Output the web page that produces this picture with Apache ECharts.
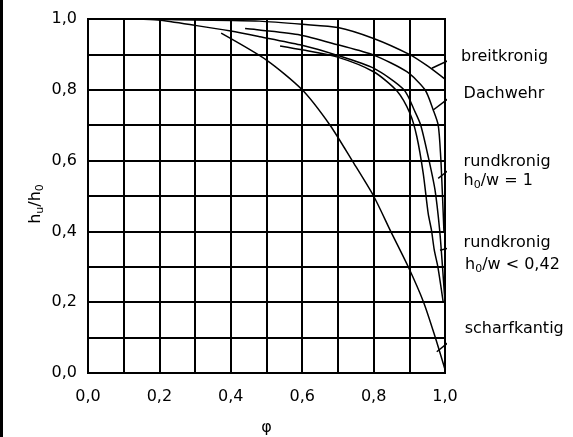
<!DOCTYPE html>
<html>
<head>
<meta charset="utf-8">
<script src="https://cdn.jsdelivr.net/npm/echarts@6/dist/echarts.min.js"></script>
<style>
  html, body { margin: 0; padding: 0; background: #fff; }
  #chart { width: 573px; height: 437px; }
</style>
</head>
<body>
<div id="chart"></div>
<script>
// curves: [phi, hu/h0]
const breitkronig = [[0.135, 1.0], [0.2, 0.999], [0.3, 0.997], [0.4, 0.996], [0.48, 0.994], [0.6, 0.985], [0.7, 0.976], [0.8, 0.945], [0.9, 0.9], [0.95, 0.868], [1.0, 0.83]]
const dachwehr = [[0.44, 0.973], [0.48, 0.969], [0.594, 0.955], [0.7, 0.927], [0.8, 0.898], [0.893, 0.851], [0.944, 0.8], [0.967, 0.743], [0.981, 0.7], [0.988, 0.61], [0.993, 0.5], [0.997, 0.4]]
const rundkronig1 = [[0.135, 1.0], [0.196, 0.997], [0.3, 0.982], [0.4, 0.966], [0.482, 0.95], [0.594, 0.927], [0.697, 0.898], [0.8, 0.861], [0.885, 0.8], [0.915, 0.74], [0.932, 0.7], [0.953, 0.611], [0.972, 0.517], [0.985, 0.404], [0.993, 0.3], [1.0, 0.2]]
const rundkronig042 = [[0.538, 0.924], [0.6, 0.913], [0.697, 0.893], [0.8, 0.851], [0.865, 0.797], [0.902, 0.733], [0.921, 0.668], [0.939, 0.564], [0.953, 0.45], [0.962, 0.404], [0.97, 0.347], [0.98, 0.3], [0.995, 0.2]]
const scharfkantig = [[0.373, 0.96], [0.5, 0.884], [0.6, 0.8], [0.678, 0.7], [0.74, 0.6], [0.8, 0.5], [0.848, 0.4], [0.897, 0.3], [0.94, 0.2], [0.972, 0.103], [1.0, 0.01]]

const labeledTicks = [0, 0.2, 0.4, 0.6, 0.8, 1.0]

// leader lines from the labels to the curves
const leaders = [
  [[1.042, 0.898], [0.963, 0.861]],
  [[1.047, 0.804], [0.967, 0.743]],
  [[1.051, 0.606], [0.981, 0.55]],
  [[1.047, 0.362], [0.986, 0.347]],
  [[1.051, 0.121], [0.977, 0.06]]
]

// label texts and where they sit (data units)
const labels = [
  { text: 'breitkronig', at: [1.045, 0.893] },
  { text: 'Dachwehr', at: [1.052, 0.788] },
  { text: 'rundkronig', at: [1.052, 0.597] },
  { text: 'h{s|0}/w = 1', at: [1.052, 0.543] },
  { text: 'rundkronig', at: [1.052, 0.367] },
  { text: 'h{s|0}/w < 0,42', at: [1.056, 0.306] },
  { text: 'scharfkantig', at: [1.055, 0.124] }
]

const FONT = 'DejaVu Sans'
const sub = { fontSize: 11, fontFamily: FONT, color: '#000', padding: [9, 0, 0, 0] }

const chart = echarts.init(document.getElementById('chart'))

const curve = (name, data) => ({
  name,
  type: 'line',
  data,
  showSymbol: false,
  smooth: 0.25,
  lineStyle: { color: '#000', width: 1.5 },
  silent: true,
  z: 5
})

const fmt = v => {
  const r = Math.round(v * 10) / 10
  return labeledTicks.some(t => Math.abs(t - r) < 1e-6) ? r.toFixed(1).replace('.', ',') : ''
}

chart.setOption({
  animation: false,
  backgroundColor: '#fff',
  textStyle: { fontFamily: FONT },
  grid: {
    left: 88, right: 128, top: 19, bottom: 64,
    outerBoundsMode: 'none', containLabel: false,
    show: true, borderColor: '#000', borderWidth: 2
  },
  xAxis: {
    type: 'value', min: 0, max: 1, interval: 0.1,
    name: 'φ', nameLocation: 'middle', nameGap: 47, nameMoveOverlap: false,
    nameTextStyle: { fontSize: 16, color: '#000', fontFamily: FONT },
    axisLine: { lineStyle: { color: '#000', width: 2 } },
    axisTick: { show: false },
    axisLabel: { formatter: fmt, fontSize: 16, color: '#000', margin: 16, fontFamily: FONT },
    splitLine: { lineStyle: { color: '#000', width: 2 } }
  },
  yAxis: {
    type: 'value', min: 0, max: 1, interval: 0.1,
    name: 'h{s|u}/h{s|0}', nameLocation: 'middle', nameGap: 42, nameMoveOverlap: false,
    nameTextStyle: { fontSize: 16, color: '#000', fontFamily: FONT, rich: { s: sub }, padding: [0, 16, 0, 0] },
    axisLine: { lineStyle: { color: '#000', width: 2 } },
    axisTick: { show: false },
    axisLabel: { formatter: fmt, fontSize: 16, color: '#000', margin: 11, fontFamily: FONT },
    splitLine: { lineStyle: { color: '#000', width: 2 } }
  },
  series: [
    curve('breitkronig', breitkronig),
    curve('Dachwehr', dachwehr),
    curve('rundkronig h0/w = 1', rundkronig1),
    curve('rundkronig h0/w < 0,42', rundkronig042),
    curve('scharfkantig', scharfkantig),
    ...leaders.map(d => ({
      type: 'line', data: d, showSymbol: false, clip: false, silent: true,
      lineStyle: { color: '#000', width: 1.5 }, z: 6
    }))
  ]
})

const graphics = [
  { type: 'rect', left: 0, top: 0, shape: { width: 3, height: 437 }, style: { fill: '#000' } }
]
labels.forEach(l => {
  const p = chart.convertToPixel({ gridIndex: 0 }, l.at)
  graphics.push({
    type: 'text', x: p[0], y: p[1],
    style: {
      text: l.text, fontSize: 16, fontFamily: FONT, fill: '#000',
      align: 'left', verticalAlign: 'middle', rich: { s: sub }
    }
  })
})
chart.setOption({ graphic: graphics })
</script>
</body>
</html>
